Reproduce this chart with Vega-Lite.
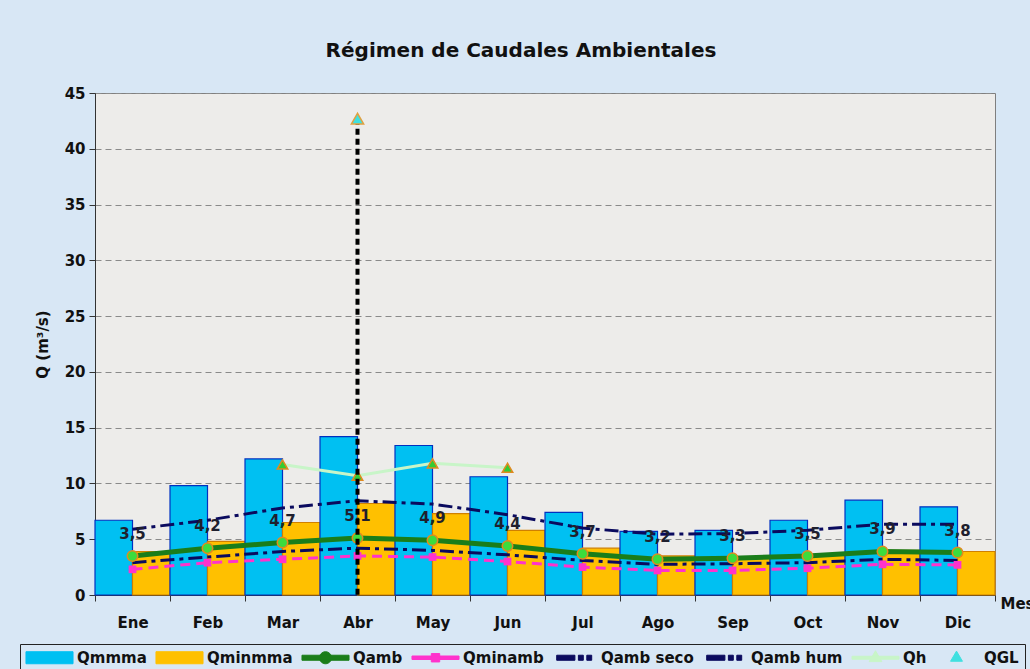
{
  "$schema": "https://vega.github.io/schema/vega-lite/v6.json",
  "width": 900,
  "height": 502,
  "autosize": "none",
  "padding": {"left": 95, "top": 93, "right": 35, "bottom": 74},
  "background": "#d8e7f5",
  "title": {"text": "Régimen de Caudales Ambientales", "font": "DejaVu Sans", "fontSize": 20, "fontWeight": "bold", "color": "#111111", "dx": -24, "offset": 9, "baseline": "alphabetic"},
  "config": {
    "locale": {"number": {"decimal": ",", "thousands": ".", "grouping": [3], "currency": ["", " €"]}},
    "view": {"fill": "#edecea", "stroke": "#7f7f7f"},
    "font": "DejaVu Sans"
  },
  "data": {"values": [
    {"mes": "Ene", "Qmmma": 6.7, "Qminmma": 3.9, "Qamb": 3.5, "Qminamb": 2.3, "Qamb_seco": 2.9, "Qamb_hum": 5.9, "Qh": null, "QGL": null},
    {"mes": "Feb", "Qmmma": 9.8, "Qminmma": 4.8, "Qamb": 4.2, "Qminamb": 2.9, "Qamb_seco": 3.4, "Qamb_hum": 6.7, "Qh": null, "QGL": null},
    {"mes": "Mar", "Qmmma": 12.2, "Qminmma": 6.5, "Qamb": 4.7, "Qminamb": 3.2, "Qamb_seco": 3.9, "Qamb_hum": 7.8, "Qh": 11.7, "QGL": null},
    {"mes": "Abr", "Qmmma": 14.2, "Qminmma": 8.2, "Qamb": 5.1, "Qminamb": 3.5, "Qamb_seco": 4.2, "Qamb_hum": 8.45, "Qh": 10.7, "QGL": 42.7},
    {"mes": "May", "Qmmma": 13.4, "Qminmma": 7.3, "Qamb": 4.9, "Qminamb": 3.4, "Qamb_seco": 4.0, "Qamb_hum": 8.15, "Qh": 11.8, "QGL": null},
    {"mes": "Jun", "Qmmma": 10.6, "Qminmma": 5.8, "Qamb": 4.4, "Qminamb": 3.0, "Qamb_seco": 3.6, "Qamb_hum": 7.2, "Qh": 11.4, "QGL": null},
    {"mes": "Jul", "Qmmma": 7.4, "Qminmma": 4.2, "Qamb": 3.7, "Qminamb": 2.5, "Qamb_seco": 3.1, "Qamb_hum": 6.0, "Qh": null, "QGL": null},
    {"mes": "Ago", "Qmmma": 5.7, "Qminmma": 3.5, "Qamb": 3.2, "Qminamb": 2.2, "Qamb_seco": 2.75, "Qamb_hum": 5.45, "Qh": null, "QGL": null},
    {"mes": "Sep", "Qmmma": 5.8, "Qminmma": 3.4, "Qamb": 3.3, "Qminamb": 2.2, "Qamb_seco": 2.8, "Qamb_hum": 5.5, "Qh": null, "QGL": null},
    {"mes": "Oct", "Qmmma": 6.7, "Qminmma": 3.6, "Qamb": 3.5, "Qminamb": 2.4, "Qamb_seco": 2.9, "Qamb_hum": 5.8, "Qh": null, "QGL": null},
    {"mes": "Nov", "Qmmma": 8.5, "Qminmma": 4.0, "Qamb": 3.9, "Qminamb": 2.75, "Qamb_seco": 3.2, "Qamb_hum": 6.35, "Qh": null, "QGL": null},
    {"mes": "Dic", "Qmmma": 7.9, "Qminmma": 3.9, "Qamb": 3.8, "Qminamb": 2.7, "Qamb_seco": 3.1, "Qamb_hum": 6.35, "Qh": null, "QGL": null}
  ]},
  "encoding": {
    "x": {
      "field": "mes", "type": "nominal",
      "sort": ["Ene", "Feb", "Mar", "Abr", "May", "Jun", "Jul", "Ago", "Sep", "Oct", "Nov", "Dic"],
      "scale": {"paddingInner": 0, "paddingOuter": 0},
      "axis": {
        "title": "Mes", "titleX": 905, "titleY": 8, "titleAlign": "left", "titleBaseline": "middle", "titleAnchor": null,
        "titleFont": "DejaVu Sans", "titleFontSize": 15, "titleFontWeight": "bold", "titleColor": "#111111",
        "labelAngle": 0, "labelFont": "DejaVu Sans", "labelFontSize": 15, "labelFontWeight": "bold", "labelColor": "#111111",
        "labelPadding": 14, "tickSize": 6, "tickBand": "extent", "tickColor": "#333333", "domainColor": "#333333", "grid": false
      }
    }
  },
  "layer": [
    {
      "transform": [{"fold": ["Qmmma", "Qminmma"], "as": ["serie", "valor"]}],
      "mark": {"type": "bar", "strokeWidth": 1.2},
      "encoding": {
        "xOffset": {"field": "serie", "type": "nominal", "sort": ["Qmmma", "Qminmma"]},
        "y": {
          "field": "valor", "type": "quantitative",
          "scale": {"domain": [0, 45], "nice": false},
          "axis": {
            "title": "Q (m³/s)", "titleFont": "DejaVu Sans", "titleFontSize": 15, "titleFontWeight": "bold", "titleColor": "#111111", "titlePadding": 14,
            "values": [0, 5, 10, 15, 20, 25, 30, 35, 40, 45],
            "labelFont": "DejaVu Sans", "labelFontSize": 15, "labelFontWeight": "bold", "labelColor": "#111111", "labelPadding": 4,
            "tickSize": 6, "tickColor": "#333333", "domainColor": "#333333",
            "grid": true, "gridColor": "#8a8a8a", "gridDash": [6, 4], "gridWidth": 1
          }
        },
        "color": {
          "field": "serie", "type": "nominal",
          "scale": {
            "domain": ["Qmmma", "Qminmma", "Qamb", "Qminamb", "Qamb seco", "Qamb hum", "Qh", "QGL"],
            "range": ["#00c0f2", "#ffc000", "#1a7d1a", "#ff33cc", "#0a0a5e", "#0a0a5e", "#c8f5c8", "#40e0e0"]
          },
          "legend": {
            "orient": "none", "legendX": -75, "legendY": 551, "direction": "horizontal", "columns": 8, "title": null,
            "labelFont": "DejaVu Sans", "labelFontSize": 15, "labelFontWeight": "bold", "labelColor": "#111111",
            "symbolSize": 196, "columnPadding": 6, "padding": 6, "strokeColor": "#222222", "fillColor": "#d8e7f5",
            "encode": {
              "symbols": {"update": {
                "x": {"value": 23.5},
                "shape": {"signal": "datum.value === 'Qmmma' || datum.value === 'Qminmma' ? 'M-3.36,-0.86H3.36V0.86H-3.36Z' : datum.value === 'Qamb' ? 'M-3.36,-0.36H3.36V0.36H-3.36Z M-0.86,0A0.86,0.86 0 1,1 0.86,0A0.86,0.86 0 1,1 -0.86,0Z' : datum.value === 'Qminamb' ? 'M-3.36,-0.25H3.36V0.25H-3.36Z M-0.6,-0.6H0.6V0.6H-0.6Z' : datum.value === 'Qh' ? 'M-3.36,-0.21H3.36V0.21H-3.36Z M0,-1L0.9,0.55H-0.9Z' : datum.value === 'QGL' ? 'M0,-0.95L0.85,0.5H-0.85Z' : 'M-2.4,-0.36H0.2V0.36H-2.4Z M0.7,-0.36H1.4V0.36H0.7Z M1.9,-0.36H2.6V0.36H1.9Z'"},
                "fill": {"signal": "datum.value === 'Qmmma' ? '#00c0f2' : datum.value === 'Qminmma' ? '#ffc000' : datum.value === 'Qamb' ? '#1a7d1a' : datum.value === 'Qminamb' ? '#ff33cc' : datum.value === 'Qh' ? '#7ed87e' : datum.value === 'QGL' ? '#40e0e0' : '#0a0a5e'"},
                "stroke": {"signal": "datum.value === 'Qmmma' ? '#0030c0' : datum.value === 'Qminmma' ? '#d08000' : datum.value === 'QGL' ? '#d09040' : null"},
                "strokeWidth": {"value": 1},
                "opacity": {"value": 1}
              }},
              "labels": {"update": {"x": {"value": 51}}}
            }
          }
        },
        "stroke": {
          "field": "serie", "type": "nominal",
          "scale": {"domain": ["Qmmma", "Qminmma"], "range": ["#0030c0", "#d08000"]},
          "legend": null
        }
      }
    },
    {
      "mark": {"type": "line", "strokeWidth": 3, "strokeDash": [14, 5, 4, 5]},
      "encoding": {"y": {"field": "Qamb_seco", "type": "quantitative"}, "color": {"datum": "Qamb seco"}}
    },
    {
      "mark": {"type": "line", "strokeWidth": 3, "strokeDash": [14, 5, 4, 5]},
      "encoding": {"y": {"field": "Qamb_hum", "type": "quantitative"}, "color": {"datum": "Qamb hum"}}
    },
    {
      "mark": {"type": "line", "strokeWidth": 3, "strokeDash": [10, 6]},
      "encoding": {"y": {"field": "Qminamb", "type": "quantitative"}, "color": {"datum": "Qminamb"}}
    },
    {
      "mark": {"type": "point", "shape": "square", "filled": true, "size": 60, "color": "#ff33cc", "opacity": 1},
      "encoding": {"y": {"field": "Qminamb", "type": "quantitative"}}
    },
    {
      "mark": {"type": "line", "strokeWidth": 5},
      "encoding": {"y": {"field": "Qamb", "type": "quantitative"}, "color": {"datum": "Qamb"}}
    },
    {
      "mark": {"type": "point", "shape": "circle", "filled": true, "size": 110, "fill": "#3cdc3c", "stroke": "#e08a20", "strokeWidth": 1.5, "opacity": 1},
      "encoding": {"y": {"field": "Qamb", "type": "quantitative"}}
    },
    {
      "mark": {"type": "text", "dy": -22, "font": "DejaVu Sans", "fontSize": 15, "fontWeight": "bold", "color": "#1f1f2e"},
      "encoding": {"y": {"field": "Qamb", "type": "quantitative"}, "text": {"field": "Qamb", "type": "quantitative", "format": ".1f"}}
    },
    {
      "mark": {"type": "line", "strokeWidth": 3},
      "encoding": {"y": {"field": "Qh", "type": "quantitative"}, "color": {"datum": "Qh"}}
    },
    {
      "mark": {"type": "point", "shape": "triangle-up", "filled": true, "size": 110, "fill": "#33cc33", "stroke": "#e08a20", "strokeWidth": 1.5, "opacity": 1},
      "encoding": {"y": {"field": "Qh", "type": "quantitative"}}
    },
    {
      "mark": {"type": "rule", "strokeWidth": 4, "strokeDash": [6, 4], "color": "#000000"},
      "encoding": {"y": {"field": "QGL", "type": "quantitative"}, "y2": {"datum": 0}}
    },
    {
      "mark": {"type": "point", "shape": "triangle-up", "filled": true, "size": 150, "fill": "#40e0e0", "stroke": "#e0a040", "strokeWidth": 1.5, "opacity": 1},
      "encoding": {"y": {"field": "QGL", "type": "quantitative"}}
    }
  ]
}
